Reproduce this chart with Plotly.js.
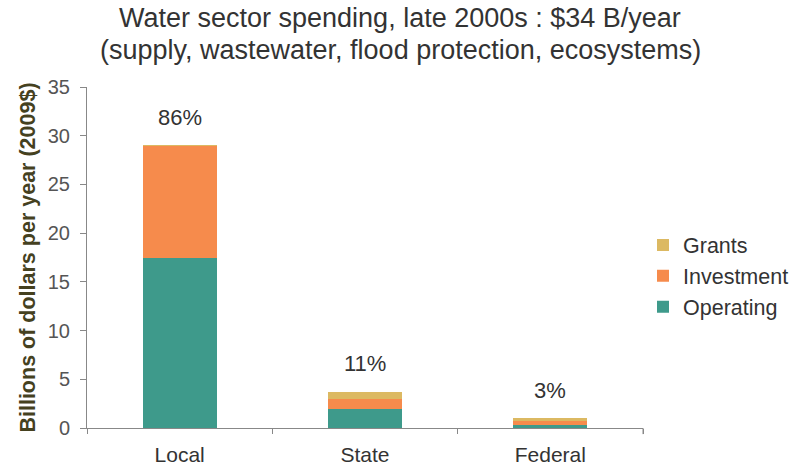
<!DOCTYPE html>
<html>
<head>
<meta charset="utf-8">
<script src="https://cdn.plot.ly/plotly-3.0.1.min.js"></script>
<style>html,body{margin:0;padding:0;background:#fff;}#chart{width:801px;height:471px;}</style>
</head>
<body>
<div id="chart"></div>
<script>
const categories = ["Local", "State", "Federal"];
const operating = [17.5, 1.9, 0.3];
const investment = [11.4, 1.1, 0.4];
const grants = [0.1, 0.7, 0.3];
const shares = ["86%", "11%", "3%"];
const yTicks = [0, 5, 10, 15, 20, 25, 30, 35];
const titleLines = ["Water sector spending, late 2000s : $34 B/year", "(supply, wastewater, flood protection, ecosystems)"];

const colors = {op: "#3e9a8b", inv: "#f68b4c", gr: "#dcb962"};
const font = "Liberation Sans, Arial, sans-serif";

const traces = [
  {type: "bar", name: "Operating", x: categories, y: operating, marker: {color: colors.op}, width: 0.4},
  {type: "bar", name: "Investment", x: categories, y: investment, marker: {color: colors.inv}, width: 0.4},
  {type: "bar", name: "Grants", x: categories, y: grants, marker: {color: colors.gr}, width: 0.4}
];

const totals = categories.map((c, i) => operating[i] + investment[i] + grants[i]);
const annotations = categories.map((c, i) => ({
  x: c, y: totals[i], xref: "x", yref: "y", text: shares[i], showarrow: false,
  yanchor: "middle", yshift: 28, font: {family: font, size: 22, color: "#333"}
}));
annotations.push(
  {xref: "paper", yref: "paper", x: 0.563, y: 1.202, text: titleLines[0], showarrow: false,
   xanchor: "center", yanchor: "middle", font: {family: font, size: 27, color: "#333"}},
  {xref: "paper", yref: "paper", x: 0.563, y: 1.108, text: titleLines[1], showarrow: false,
   xanchor: "center", yanchor: "middle", font: {family: font, size: 27, color: "#333"}}
);

const layout = {
  width: 801, height: 471,
  margin: {l: 87, r: 158, t: 87, b: 43, autoexpand: false},
  paper_bgcolor: "#fff", plot_bgcolor: "#fff",
  barmode: "stack",
  xaxis: {
    showline: true, linecolor: "#888", linewidth: 1,
    ticks: "outside", tickson: "boundaries", ticklen: 5, tickcolor: "#888",
    ticklabelstandoff: 8,
    tickfont: {family: font, size: 21, color: "#333"},
    showgrid: false, zeroline: false, automargin: false
  },
  yaxis: {
    range: [0, 35], tickvals: yTicks, ticks: "outside", ticklen: 6, tickcolor: "#888",
    showline: true, linecolor: "#888", linewidth: 1,
    showgrid: false, zeroline: false, automargin: false,
    ticklabelstandoff: 6,
    tickfont: {family: font, size: 20, color: "#555"},
    title: {text: "<b>Billions of dollars per year (2009$)</b>", font: {family: font, size: 21.5, color: "#45411f"}, standoff: 6}
  },
  legend: {
    x: 1.0, xanchor: "left", y: 0.446, yanchor: "middle",
    traceorder: "reversed",
    font: {family: font, size: 21.5, color: "#333"},
    itemwidth: 30, itemsizing: "constant", tracegroupgap: 0
  },
  annotations: annotations,
  shapes: [{type: "line", xref: "paper", yref: "paper", x0: 1, x1: 1, y0: 0, y1: -0.018, line: {color: "#888", width: 1}}]
};

Plotly.newPlot("chart", traces, layout, {displayModeBar: false, staticPlot: true});
</script>
</body>
</html>
